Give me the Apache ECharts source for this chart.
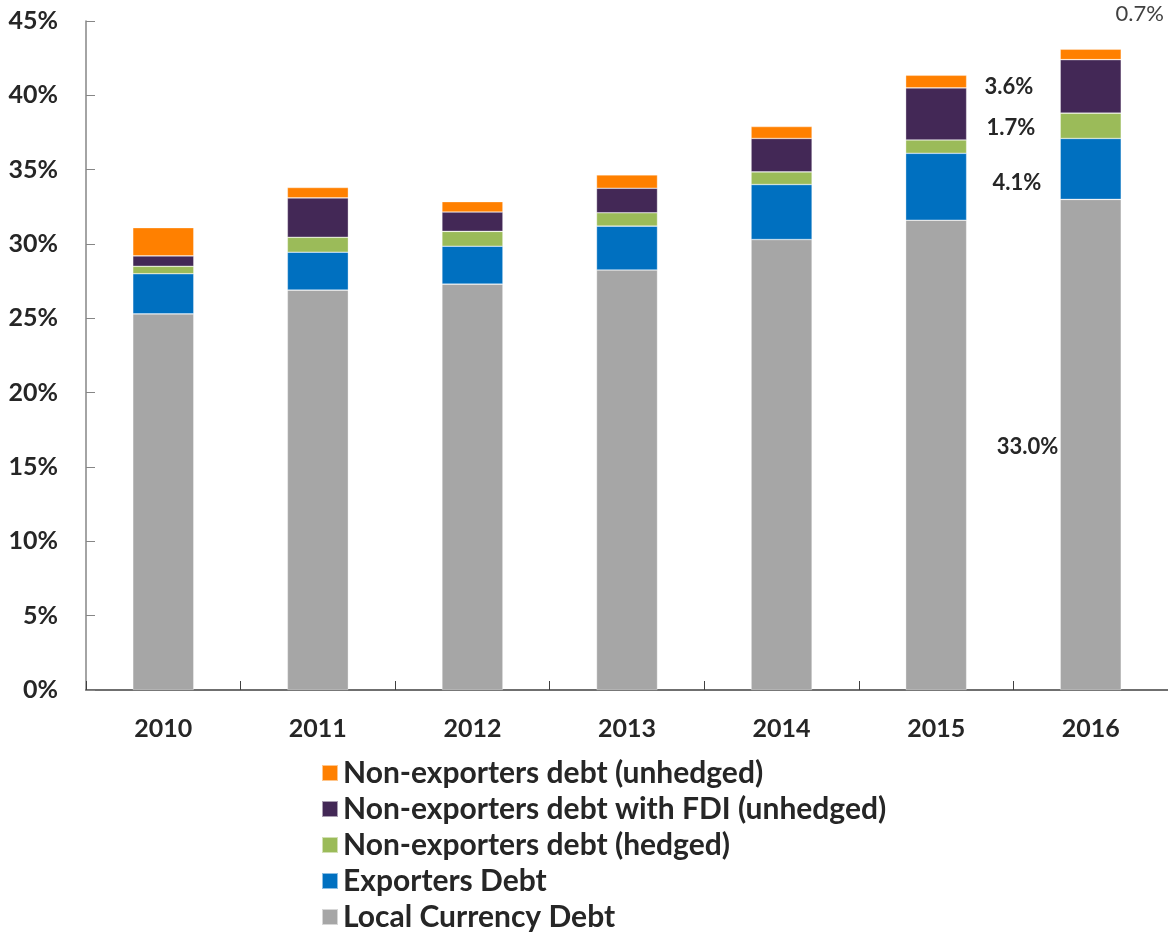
<!DOCTYPE html>
<html>
<head>
<meta charset="utf-8">
<script src="https://cdn.jsdelivr.net/npm/echarts@6/dist/echarts.min.js"></script>
<style>
  html, body { margin: 0; padding: 0; background: #fff; }
  #chart { width: 1168px; height: 933px; }
</style>
</head>
<body>
<div id="chart"></div>
<script>
// Corporate debt composition, % of GDP
const years = ['2010', '2011', '2012', '2013', '2014', '2015', '2016'];
const localCurrencyDebt = [25.3, 26.9, 27.3, 28.25, 30.3, 31.6, 33.0];
const exportersDebt = [2.7, 2.55, 2.55, 2.95, 3.7, 4.5, 4.1];
const nonExportersHedged = [0.5, 1.0, 1.0, 0.9, 0.85, 0.9, 1.7];
const nonExportersFdiUnhedged = [0.7, 2.65, 1.3, 1.65, 2.25, 3.5, 3.6];
const nonExportersUnhedged = [1.9, 0.7, 0.7, 0.9, 0.8, 0.85, 0.7];
const yTicks = [0, 5, 10, 15, 20, 25, 30, 35, 40, 45];

const FONT = 'Lato, "Open Sans", sans-serif';
const TEXT = '#262626';
const LAST = years.length - 1;

// Labels on the 2016 bar only, each placed to the left of its segment
function withLastLabel(values, labelOpts) {
  return values.map((v, i) => {
    if (i !== LAST || !labelOpts) return v;
    return {
      value: v,
      label: Object.assign({
        show: true,
        formatter: (p) => p.value.toFixed(1) + '%',
        fontFamily: FONT,
        fontSize: 22,
        fontWeight: 'bold',
        color: TEXT
      }, labelOpts)
    };
  });
}

const series = [
  { name: 'Local Currency Debt', color: '#A6A6A6', data: localCurrencyDebt,
    label: { position: 'left', distance: 2, offset: [0, 2] } },
  { name: 'Exporters Debt', color: '#0070C0', data: exportersDebt,
    label: { position: 'left', distance: 19, offset: [0, 14] } },
  { name: 'Non-exporters debt (hedged)', color: '#9BBB59', data: nonExportersHedged,
    label: { position: 'left', distance: 25, offset: [0, 2] } },
  { name: 'Non-exporters debt with FDI (unhedged)', color: '#432856', data: nonExportersFdiUnhedged,
    label: { position: 'left', distance: 27, offset: [0, 0] } },
  { name: 'Non-exporters debt (unhedged)', color: '#FF8000', data: nonExportersUnhedged,
    label: { position: 'top', distance: 5, offset: [49, -19], fontWeight: 'normal', color: '#404040' } }
].map(s => ({
  name: s.name,
  type: 'bar',
  stack: 'debt',
  barWidth: 61,
  itemStyle: { color: s.color, borderColor: 'rgba(255,255,255,0.55)', borderWidth: 0.6 },
  emphasis: { disabled: true },
  data: withLastLabel(s.data, s.label)
}));

const chart = echarts.init(document.getElementById('chart'), null, { renderer: 'canvas' });
chart.setOption({
  animation: false,
  backgroundColor: '#ffffff',
  grid: { left: 86, right: 0, top: 21, bottom: 243, containLabel: false },
  legend: {
    orient: 'vertical',
    left: 321,
    top: 758,
    padding: 0,
    icon: 'rect',
    itemWidth: 16,
    itemHeight: 16,
    itemGap: 6,
    data: series.map(s => s.name).reverse(),
    textStyle: { fontFamily: FONT, fontSize: 30, fontWeight: 'bold', color: TEXT, lineHeight: 30 }
  },
  xAxis: {
    type: 'category',
    data: years,
    axisLine: { lineStyle: { color: '#404040', width: 1.5 } },
    axisTick: { show: true, inside: true, length: 9, alignWithLabel: false, lineStyle: { color: '#404040' } },
    axisLabel: { margin: 26, fontFamily: FONT, fontSize: 25, fontWeight: 'bold', color: TEXT },
    splitLine: { show: false }
  },
  yAxis: {
    type: 'value',
    min: yTicks[0],
    max: yTicks[yTicks.length - 1],
    interval: yTicks[1] - yTicks[0],
    axisLine: { show: true, lineStyle: { color: '#868686', width: 1.5 } },
    axisTick: { show: true, inside: true, length: 9, lineStyle: { color: '#868686' } },
    axisLabel: { margin: 28, formatter: '{value}%', fontFamily: FONT, fontSize: 25, fontWeight: 'bold', color: TEXT },
    splitLine: { show: false }
  },
  series: series
});
</script>
</body>
</html>
